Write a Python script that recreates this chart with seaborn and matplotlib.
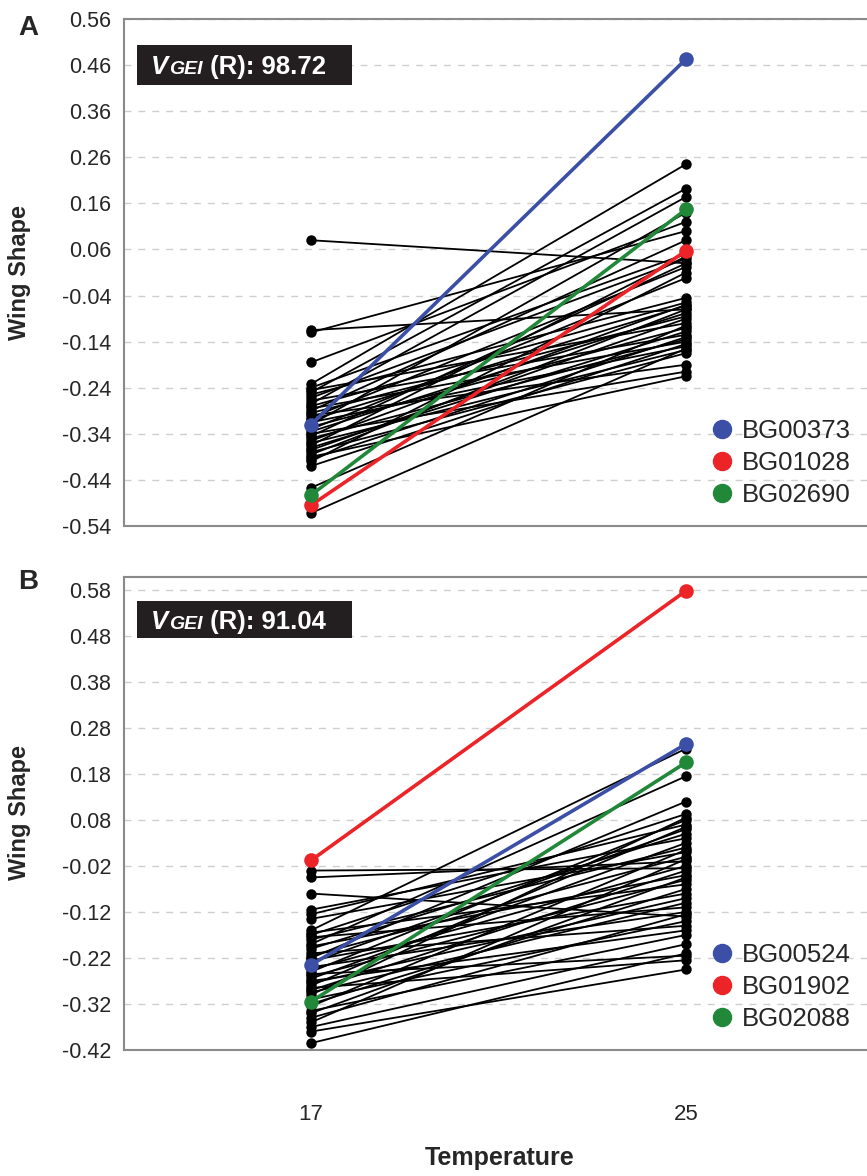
import numpy as np
import pandas as pd
import matplotlib
matplotlib.use("Agg")
import matplotlib.pyplot as plt
from matplotlib.lines import Line2D
from matplotlib.patches import Rectangle
import seaborn as sns

temps = [17, 25]

# panel A: background genotypes (value at 17, value at 25)
a_left = [0.08, -0.115, -0.12, -0.185, -0.232, -0.24, -0.245, -0.25, -0.255, -0.262,
          -0.268, -0.275, -0.28, -0.285, -0.29, -0.295, -0.30, -0.305, -0.31, -0.315,
          -0.32, -0.325, -0.33, -0.335, -0.34, -0.345, -0.35, -0.355, -0.36, -0.365,
          -0.37, -0.375, -0.38, -0.385, -0.39, -0.395, -0.40, -0.41, -0.457, -0.512]
a_right = [0.03, -0.07, 0.10, 0.12, 0.245, 0.05, -0.10, 0.192, -0.045, 0.04,
           -0.125, 0.174, -0.055, -0.14, 0.08, -0.085, -0.19, 0.022, -0.062, -0.15,
           0.14, -0.11, -0.002, -0.078, -0.205, 0.03, -0.135, -0.06, -0.158, 0.045,
           -0.118, -0.09, -0.165, -0.07, -0.215, -0.13, 0.01, -0.145, -0.105, -0.155]
a_hl_names = ["BG00373", "BG01028", "BG02690"]
a_hl_left = [-0.32, -0.495, -0.473]
a_hl_right = [0.473, 0.057, 0.147]
a_score = "98.72"

# panel B
b_left = [-0.03, -0.045, -0.08, -0.115, -0.125, -0.135, -0.16, -0.165, -0.17, -0.175,
          -0.18, -0.19, -0.195, -0.20, -0.21, -0.215, -0.22, -0.225, -0.23, -0.24,
          -0.245, -0.25, -0.255, -0.26, -0.265, -0.27, -0.275, -0.28, -0.285, -0.29,
          -0.295, -0.30, -0.31, -0.32, -0.325, -0.335, -0.34, -0.35, -0.36, -0.37,
          -0.38, -0.405]
b_right = [-0.025, -0.01, -0.13, 0.04, 0.07, 0.01, 0.235, -0.06, 0.093, -0.11,
           0.02, 0.175, -0.04, 0.05, -0.15, 0.0, 0.12, -0.08, 0.06, -0.12,
           -0.02, 0.08, -0.215, -0.05, 0.03, -0.16, -0.09, 0.065, -0.225, -0.03,
           -0.10, 0.085, -0.14, -0.07, 0.015, -0.17, -0.045, -0.125, -0.005, -0.19,
           -0.245, -0.21]
b_hl_names = ["BG00524", "BG01902", "BG02088"]
b_hl_left = [-0.235, -0.008, -0.315]
b_hl_right = [0.245, 0.578, 0.205]
b_score = "91.04"

hl_colors = ["#3b4fa6", "#ec2327", "#21883a"]


def long_df(left, right, names=None):
    ids = names if names is not None else [f"g{i}" for i in range(len(left))]
    rows = []
    for g, l, r in zip(ids, left, right):
        rows.append({"geno": g, "Temperature": temps[0], "shape": l})
        rows.append({"geno": g, "Temperature": temps[1], "shape": r})
    return pd.DataFrame(rows)


sns.set_style("white")
plt.rcParams["font.family"] = ["Liberation Sans", "DejaVu Sans"]

fig = plt.figure(figsize=(8.67, 11.76), dpi=100)
ax_a = fig.add_axes([123.5 / 867, 1 - 526 / 1176, 750 / 867, 507 / 1176])
ax_b = fig.add_axes([123.5 / 867, 1 - 1050 / 1176, 750 / 867, 473 / 1176])

panels = [
    (ax_a, a_left, a_right, a_hl_names, a_hl_left, a_hl_right, a_score,
     (-0.54, 0.56), np.arange(-0.54, 0.561, 0.1)),
    (ax_b, b_left, b_right, b_hl_names, b_hl_left, b_hl_right, b_score,
     (-0.42, 0.608), np.arange(-0.42, 0.581, 0.1)),
]

for ax, left, right, names, hl_l, hl_r, score, ylim, yt in panels:
    bg = long_df(left, right)
    sns.lineplot(data=bg, x="Temperature", y="shape", units="geno", estimator=None,
                 color="black", lw=1.3, marker="o", markersize=7.5, markeredgewidth=0,
                 ax=ax, zorder=3)
    hl = long_df(hl_l, hl_r, names)
    sns.lineplot(data=hl, x="Temperature", y="shape", hue="geno", hue_order=names,
                 palette=hl_colors, estimator=None, lw=2.6, marker="o", markersize=10.5,
                 markeredgewidth=0, ax=ax, zorder=4, legend=False)

    ax.set_xlim(13, 29)
    ax.set_ylim(*ylim)
    ax.set_yticks(yt)
    ax.set_yticklabels([f"{v:.2f}" for v in yt], fontsize=15.5)
    ax.set_xticks([13, 17, 21, 25, 29])
    ax.set_xlabel("")
    ax.set_ylabel("")
    ax.yaxis.grid(True, color="#cfcfcf", linestyle=(0, (5, 5)), lw=1)
    ax.set_axisbelow(True)
    for s in ax.spines.values():
        s.set_color("#8a8a8a")
        s.set_linewidth(1.5)
    ax.tick_params(axis="y", length=5, color="#8a8a8a", width=1, pad=4)
    ax.tick_params(axis="x", length=5, color="#8a8a8a", width=1, pad=34)

    handles = [Line2D([], [], marker="o", ls="", color=c, markersize=13) for c in hl_colors]
    ax.legend(handles, names, loc="lower right", bbox_to_anchor=(0.995, 0.0),
              frameon=False, fontsize=18.5, handletextpad=0.15, labelspacing=0.3,
              handlelength=1.2, borderaxespad=0.35)

    # black score box
    ax.add_patch(Rectangle((0.018, 0.870), 0.287, 0.079, transform=ax.transAxes,
                           facecolor="#231f20", edgecolor="none", zorder=6))
    ty = 0.882 if ax is ax_a else 0.880
    t1 = ax.text(0.037, ty, "V", transform=ax.transAxes, color="white", fontsize=18.5,
                 fontweight="bold", style="italic", va="bottom", zorder=7)
    t2 = ax.annotate("GEI", xy=(1, 0), xycoords=t1, xytext=(0.5, 0.7),
                     textcoords="offset points", color="white", fontsize=14,
                     fontweight="bold", style="italic", va="bottom", zorder=7)
    ax.annotate(f" (R): {score}", xy=(1, 0), xycoords=t2, xytext=(0, -0.7),
                textcoords="offset points", color="white", fontsize=18.5,
                fontweight="bold", va="bottom", zorder=7)

ax_a.set_xticklabels([])
ax_b.set_xticklabels(["", "17", "", "25", ""], fontsize=16)

fig.text(28 / 867, 1 - 28 / 1176, "A", fontsize=20, fontweight="bold", ha="center", va="center")
fig.text(28 / 867, 1 - 582 / 1176, "B", fontsize=20, fontweight="bold", ha="center", va="center")
fig.text(20 / 867, 1 - 272 / 1176, "Wing Shape", rotation=90, fontsize=17,
         fontweight="bold", ha="center", va="center")
fig.text(20 / 867, 1 - 813 / 1176, "Wing Shape", rotation=90, fontsize=17,
         fontweight="bold", ha="center", va="center")
fig.text(500 / 867, 1 - 1158 / 1176, "Temperature", fontsize=18, fontweight="bold",
         ha="center", va="center")

fig.savefig("out.png", dpi=100)
